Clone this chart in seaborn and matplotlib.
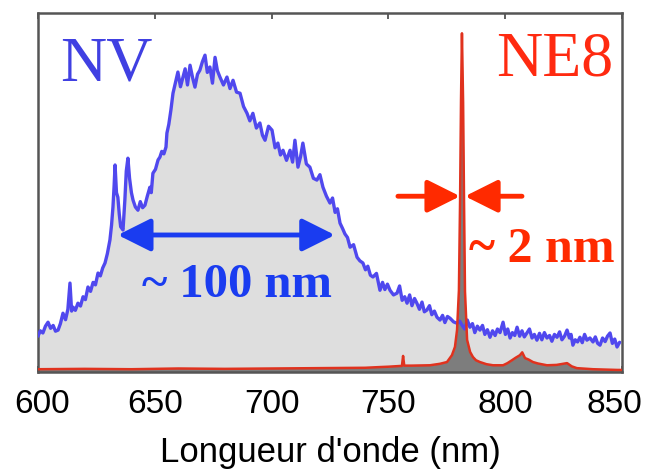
import matplotlib
matplotlib.use("Agg")
import matplotlib.pyplot as plt
import matplotlib.transforms as mtransforms
import seaborn as sns
import numpy as np

# ---------------- data ----------------
nv_wl = [600.0, 601.0, 602.1, 603.2, 604.3, 605.4, 606.5, 607.5, 608.6, 609.6,
         610.7, 611.8, 612.8, 613.7, 614.4, 615.0, 616.0, 617.1, 618.2, 619.3,
         620.3, 621.4, 622.5, 623.6, 624.6, 625.7, 626.7, 627.7, 628.7, 629.7,
         630.8, 631.5, 632.1, 632.6, 633.0, 633.6, 634.2, 634.8, 635.4, 636.4,
         637.2, 637.8, 638.5, 639.2, 640.0, 640.7, 641.7, 642.8, 643.8, 644.8,
         645.8, 646.8, 647.9, 648.5, 649.2, 650.3, 651.4, 652.2, 653.0, 653.9,
         654.8, 655.2, 656.0, 656.9, 657.8, 658.8, 659.9, 661.0, 662.1, 663.0,
         664.0, 665.1, 666.2, 667.2, 668.3, 669.3, 670.4, 671.5, 672.5, 673.6,
         674.7, 675.8, 676.8, 677.9, 679.4, 680.9, 682.2, 683.5, 685.0, 686.5,
         688.0, 689.5, 690.7, 692.0, 693.5, 695.0, 696.1, 697.2, 698.7, 700.2,
         701.5, 702.7, 703.8, 704.9, 706.4, 707.9, 709.0, 710.0, 711.3, 712.4,
         713.4, 714.9, 716.4, 717.9, 719.4, 720.7, 722.0, 723.5, 725.0, 726.1,
         727.2, 728.2, 729.3, 730.4, 731.4, 732.5, 733.6, 735.1, 736.6, 737.8,
         739.1, 740.2, 741.2, 742.3, 743.4, 744.9, 746.4, 747.5, 748.5, 749.6,
         750.7, 752.2, 753.7, 754.8, 755.9, 757.0, 758.0, 759.1, 760.1, 761.2,
         762.2, 763.3, 764.4, 765.4, 766.5, 767.6, 768.6, 769.7, 770.8, 772.1,
         773.2, 774.2, 775.3, 776.4, 777.9, 779.4, 780.5, 781.6, 782.7, 783.8,
         784.9, 786.0, 787.0, 788.1, 789.2, 790.3, 791.3, 792.4, 793.5, 794.6,
         795.7, 796.7, 797.8, 799.1, 800.1, 801.1, 802.1, 803.1, 804.1, 805.1,
         806.2, 807.2, 808.2, 809.3, 810.4, 811.5, 812.5, 813.6, 814.7, 815.7,
         816.8, 817.9, 819.0, 820.0, 821.1, 822.2, 823.3, 824.3, 825.4, 826.5,
         827.5, 828.2, 829.0, 830.0, 831.0, 832.0, 833.0, 834.0, 835.0, 836.3,
         837.6, 838.6, 839.6, 840.6, 841.7, 842.8, 843.8, 844.9, 845.9, 846.9,
         847.9, 849.0]
nv_int = [10.0, 11.5, 10.9, 12.8, 13.9, 12.2, 13.0, 11.4, 11.7, 13.5,
          16.4, 14.6, 17.5, 24.8, 17.0, 18.1, 17.2, 19.2, 18.4, 21.0,
          20.2, 23.7, 22.5, 25.0, 24.3, 27.6, 26.8, 29.0, 30.4, 33.0,
          36.8, 41.0, 46.0, 52.0, 57.7, 50.0, 48.7, 44.0, 40.5, 39.6,
          48.0, 56.0, 59.6, 54.0, 50.0, 47.9, 46.0, 45.1, 47.5, 45.8,
          46.5, 49.0, 51.5, 50.0, 55.4, 56.5, 59.1, 59.9, 61.5, 60.8,
          62.7, 66.6, 69.0, 73.0, 77.7, 80.5, 83.6, 79.5, 82.2, 84.5,
          80.0, 85.5, 82.0, 79.4, 83.0, 84.1, 86.5, 88.3, 83.5, 85.0,
          80.5, 87.7, 84.0, 82.2, 80.0, 82.2, 79.0, 81.3, 78.0, 77.7,
          74.0, 72.1, 70.0, 72.1, 68.0, 69.4, 66.0, 64.6, 68.5, 67.4,
          62.5, 63.8, 60.5, 61.8, 59.0, 61.8, 58.5, 64.6, 57.1, 60.0,
          63.8, 58.0, 57.1, 54.0, 53.5, 55.0, 51.5, 49.0, 47.1, 48.5,
          44.5, 45.5, 41.5, 40.0, 38.5, 37.5, 34.8, 35.5, 32.0, 31.0,
          30.4, 28.5, 29.5, 27.0, 26.5, 27.5, 22.8, 25.0, 23.0, 24.5,
          22.8, 21.5, 22.0, 24.0, 20.0, 21.0, 19.2, 21.5, 18.5, 20.5,
          19.2, 17.5, 19.5, 16.8, 17.3, 18.5, 16.0, 17.0, 15.3, 14.5,
          15.8, 13.8, 15.5, 15.0, 14.0, 13.6, 14.2, 13.0, 12.0, 14.5,
          12.5, 13.5, 11.0, 12.8, 11.7, 13.0, 10.5, 11.8, 9.7, 11.5,
          10.2, 12.0, 11.0, 13.9, 10.5, 12.0, 9.5, 11.0, 10.2, 12.5,
          10.0, 11.5, 9.8, 10.9, 12.0, 9.5, 10.5, 8.9, 10.8, 9.0,
          11.0, 9.5, 10.2, 8.6, 10.5, 9.7, 11.2, 9.0, 10.0, 11.7,
          9.5, 10.5, 7.5, 9.0, 8.4, 9.7, 8.2, 10.5, 8.9, 9.5,
          8.4, 9.8, 8.0, 7.5, 9.5, 8.5, 10.0, 10.9, 8.0, 9.2,
          7.0, 8.3]

ne8_wl = [600.0, 620.0, 640.0, 660.0, 680.0, 700.0, 720.0, 740.0, 746.4, 750.0,
          755.0, 755.8, 756.3, 756.8, 760.0, 767.8, 772.0, 775.1, 777.2, 778.5,
          779.4, 780.2, 780.7, 781.1, 781.5, 782.0, 782.4, 782.8, 783.7, 785.0,
          786.2, 787.5, 789.2, 792.0, 794.8, 799.1, 801.0, 802.9, 804.5, 806.3,
          807.3, 808.5, 810.0, 811.9, 814.0, 817.9, 822.0, 826.5, 828.5, 830.7,
          837.6, 848.0, 850.0]
ne8_int = [0.8, 0.9, 0.8, 1.0, 0.9, 1.0, 1.1, 1.2, 1.4, 1.5,
           1.7, 1.7, 4.5, 1.8, 1.8, 1.9, 2.3, 2.8, 4.7, 7.0,
           11.7, 22.8, 47.9, 75.8, 94.4, 75.0, 47.0, 22.5, 9.0, 5.6,
           4.2, 3.3, 2.8, 2.2, 1.9, 1.9, 2.5, 3.3, 4.0, 4.7,
           5.5, 3.9, 3.5, 2.8, 2.4, 1.9, 2.0, 2.5, 1.6, 1.1,
           0.8, 0.6, 0.6]

x_ticks = [600, 650, 700, 750, 800, 850]
x_label = "Longueur d'onde (nm)"

# annotation spans (nm) and heights
nv_span = (634.2, 727.1, 38.2)
ne8_left = (754.1, 780.7, 49.0)
ne8_right = (807.2, 782.8, 49.0)

# ---------------- figure ----------------
sns.set_style("white")
plt.rcParams['font.family'] = ['Liberation Sans', 'DejaVu Sans']

fig = plt.figure(figsize=(6.47, 4.71), dpi=100)
ax = fig.add_axes([0.0587, 0.210, 0.9026, 0.762])

ax.fill_between(nv_wl, 0, nv_int, color='#dedede', lw=0, zorder=1)
ax.fill_between(ne8_wl, 0, ne8_int, color='#7d7d7d', lw=0, zorder=2)
sns.lineplot(x=nv_wl, y=nv_int, ax=ax, color='#5048ee', lw=2.4, zorder=3)
sns.lineplot(x=ne8_wl, y=ne8_int, ax=ax, color='#e0321e', lw=1.8, zorder=4)

ax.set_xlim(600, 850)
ax.set_ylim(0, 100)
ax.set_xticks(x_ticks)
ax.set_xticklabels([str(t) for t in x_ticks])
ax.set_yticks([])
ax.set_xlabel(x_label, fontsize=25, labelpad=12, color='black')
ax.set_ylabel('')
ax.tick_params(axis='x', direction='in', top=True, bottom=True, length=4,
               width=1.2, color='#444444', labelsize=24, pad=12,
               labelcolor='black')
for s in ax.spines.values():
    s.set_visible(True)
    s.set_color('#555555')
    s.set_linewidth(1.8)

# small horizontal nudges of edge labels, as in the reference
nudges = {0: 4, 5: -8}
for i, lab in enumerate(ax.get_xticklabels()):
    if i in nudges:
        lab.set_transform(lab.get_transform() +
                          mtransforms.ScaledTranslation(nudges[i] / 100, 0,
                                                        fig.dpi_scale_trans))

serif = ['Liberation Serif', 'DejaVu Serif']
ax.text(0.038, 0.813, 'NV', transform=ax.transAxes, fontsize=46,
        family=serif, color='#4040e2', ha='left', va='baseline')
ax.text(0.985, 0.827, 'NE8', transform=ax.transAxes, fontsize=46,
        family=serif, color='#ff2a10', ha='right', va='baseline')
ax.text(685, 20.8, '~ 100 nm', fontsize=35, family=serif, weight='bold',
        color='#1a3cf0', ha='center', va='baseline')
ax.text(815.5, 30.6, '~ 2 nm', fontsize=36, family=serif, weight='bold',
        color='#ff2a00', ha='center', va='baseline')

ax.annotate('', xy=(nv_span[0], nv_span[2]), xytext=(nv_span[1], nv_span[2]),
            arrowprops=dict(arrowstyle='<|-|>,head_length=1.0,head_width=0.5',
                            color='#1a3cf0', lw=3.5, mutation_scale=20,
                            shrinkA=0, shrinkB=0), zorder=6)
ax.annotate('', xy=(ne8_left[1], ne8_left[2]), xytext=(ne8_left[0], ne8_left[2]),
            arrowprops=dict(arrowstyle='-|>,head_length=1.0,head_width=0.5',
                            color='#ff2a00', lw=3.5, mutation_scale=20,
                            shrinkA=0, shrinkB=0), zorder=6)
ax.annotate('', xy=(ne8_right[1], ne8_right[2]), xytext=(ne8_right[0], ne8_right[2]),
            arrowprops=dict(arrowstyle='-|>,head_length=1.0,head_width=0.5',
                            color='#ff2a00', lw=3.5, mutation_scale=20,
                            shrinkA=0, shrinkB=0), zorder=6)

fig.savefig('out.png', dpi=100)
